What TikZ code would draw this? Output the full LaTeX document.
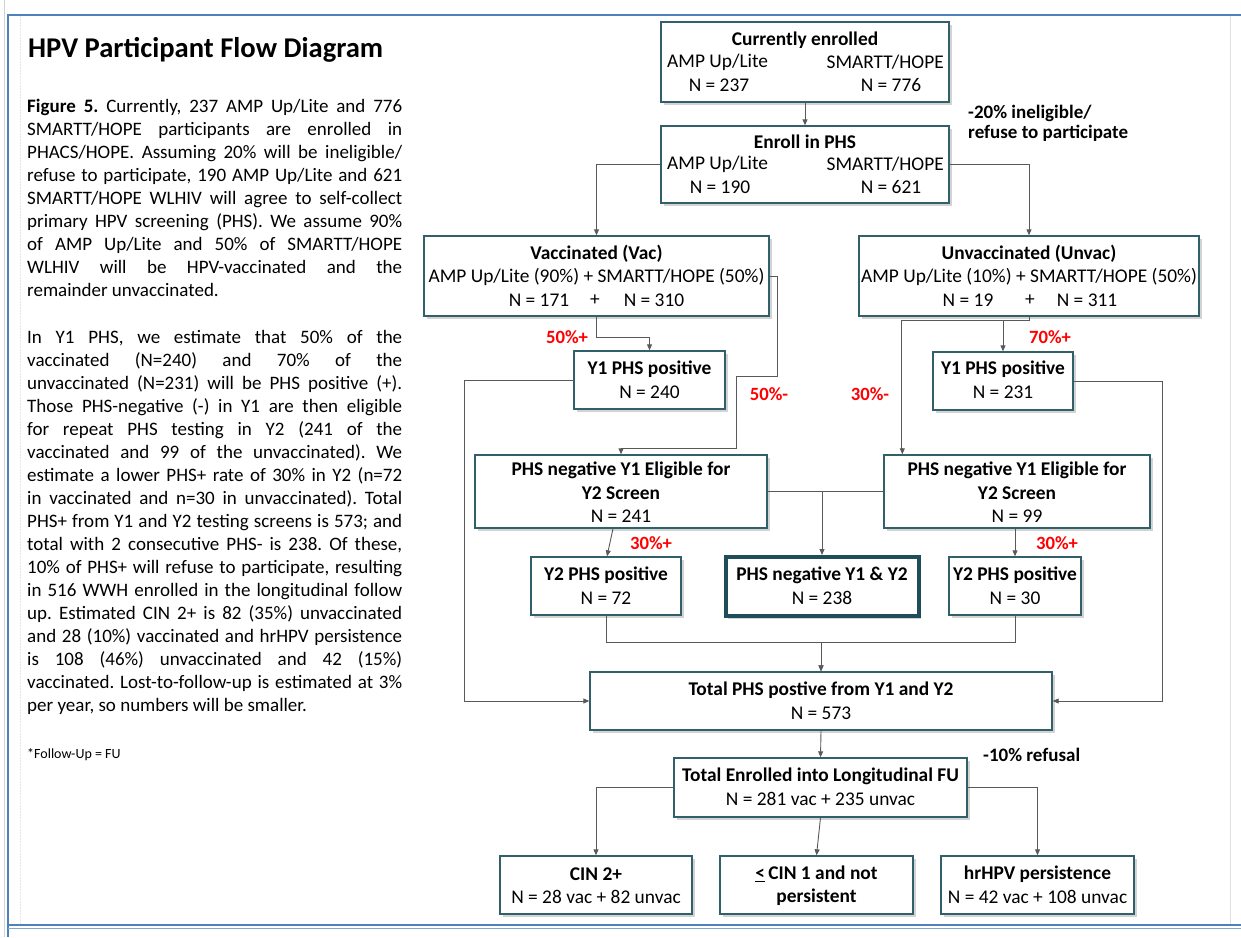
\documentclass[tikz,border=0pt]{standalone}
\usepackage{fontspec}
\setmainfont{Carlito}
\usetikzlibrary{arrows.meta,shadows,calc}
\definecolor{frameblue}{HTML}{4F81BD}
\definecolor{boxteal}{HTML}{31606B}
\definecolor{thickteal}{HTML}{1F4E5A}
\definecolor{conn}{HTML}{595959}
\definecolor{pctred}{HTML}{FF0000}
\frenchspacing
\tikzset{
  box/.style={draw=boxteal, line width=1.4pt, fill=white, inner sep=0pt,
    drop shadow={shadow xshift=2.5pt, shadow yshift=-2.5pt, opacity=0.35, fill=gray}},
  thickbox/.style={box, draw=thickteal, line width=4pt},
  line/.style={draw=conn, line width=0.9pt},
  arr/.style={line, -{Triangle[length=6pt,width=5pt]}},
  bt/.style={font=\fontsize{19.4}{22}\selectfont\bfseries, inner sep=0pt},
  nt/.style={font=\fontsize{19.4}{22}\selectfont, inner sep=0pt},
  pct/.style={font=\fontsize{18.7}{21}\selectfont\bfseries, text=pctred, inner sep=0pt},
  note/.style={font=\fontsize{19}{22}\selectfont\bfseries, inner sep=0pt, anchor=base west},
  bodytxt/.style={font=\fontsize{19}{23}\selectfont, inner sep=0pt, anchor=base west},
}
\newcommand\jline[3]{\node[bodytxt] (#1) at (27,#2) {\makebox[375pt][s]{#3}};}
\newcommand\lline[3]{\node[bodytxt] (#1) at (27,#2) {#3};}
\begin{document}
\begin{tikzpicture}[x=1pt,y=-1pt]
\useasboundingbox (0,0) rectangle (1241,937);
% page frame
\draw[gray!35, line width=1pt] (4,0) -- (4,937);
\draw[gray!20, line width=0.8pt, dash pattern=on 2pt off 1pt] (20,16) -- (20,925);
\draw[gray!25, line width=0.8pt] (1230,16) -- (1230,925);
\draw[frameblue, line width=2pt] (7.5,937) -- (7.5,15) -- (1241,15);
\draw[frameblue, line width=1.2pt] (7.5,925) -- (1241,925);
\draw[frameblue!70, line width=0.8pt] (7.5,928.5) -- (1241,928.5);

% title and text
\node[font=\fontsize{28.6}{32}\selectfont\bfseries, inner sep=0pt, anchor=base west] (title) at (28,57) {HPV Participant Flow Diagram};
\jline{a1}{112}{\textbf{Figure 5.} Currently, 237 AMP Up/Lite and 776}
\jline{a2}{135}{SMARTT/HOPE participants are enrolled in}
\jline{a3}{158}{PHACS/HOPE. Assuming 20\% will be ineligible/}
\jline{a4}{181}{refuse to participate, 190 AMP Up/Lite and 621}
\jline{a5}{204}{SMARTT/HOPE WLHIV will agree to self-collect}
\jline{a6}{227}{primary HPV screening (PHS). We assume 90\%}
\jline{a7}{250}{of AMP Up/Lite and 50\% of SMARTT/HOPE}
\jline{a8}{273}{WLHIV will be HPV-vaccinated and the}
\lline{a9}{296}{remainder unvaccinated.}
\jline{b1}{343}{In Y1 PHS, we estimate that 50\% of the}
\jline{b2}{366}{vaccinated (N=240) and 70\% of the}
\jline{b3}{389}{unvaccinated (N=231) will be PHS positive (+).}
\jline{b4}{412}{Those PHS-negative (-) in Y1 are then eligible}
\jline{b5}{435}{for repeat PHS testing in Y2 (241 of the}
\jline{b6}{458}{vaccinated and 99 of the unvaccinated). We}
\jline{b7}{481}{estimate a lower PHS+ rate of 30\% in Y2 (n=72}
\jline{b8}{504}{in vaccinated and n=30 in unvaccinated). Total}
\jline{b9}{527}{PHS+ from Y1 and Y2 testing screens is 573; and}
\jline{b10}{550}{total with 2 consecutive PHS- is 238. Of these,}
\jline{b11}{573}{10\% of PHS+ will refuse to participate, resulting}
\jline{b12}{596}{in 516 WWH enrolled in the longitudinal follow}
\jline{b13}{619}{up. Estimated CIN 2+ is 82 (35\%) unvaccinated}
\jline{b14}{642}{and 28 (10\%) vaccinated and hrHPV persistence}
\jline{b15}{665}{is 108 (46\%) unvaccinated and 42 (15\%)}
\jline{b16}{688}{vaccinated. Lost-to-follow-up is estimated at 3\%}
\lline{b17}{711}{per year, so numbers will be smaller.}
\node[font=\fontsize{14}{16}\selectfont, inner sep=0pt, anchor=base west] (fn) at (27,758) {*Follow-Up = FU};

% boxes
\node[box, minimum width=288pt, minimum height=80pt] (cur) at (805,62) {};
\node[box, minimum width=288pt, minimum height=77pt] (enr) at (805,164.5) {};
\node[box, minimum width=345pt, minimum height=80pt] (vac) at (596.5,276) {};
\node[box, minimum width=340pt, minimum height=80pt] (unv) at (1029,276) {};
\node[box, minimum width=151pt, minimum height=58pt] (y1v) at (649.5,380) {};
\node[box, minimum width=140pt, minimum height=58pt] (y1u) at (1003,381) {};
\node[box, minimum width=292pt, minimum height=73pt] (negv) at (621,491.5) {};
\node[box, minimum width=266pt, minimum height=73pt] (negu) at (1017,491.5) {};
\node[box, minimum width=150pt, minimum height=58pt] (y2v) at (606,586) {};
\node[thickbox, minimum width=193pt, minimum height=59pt] (negb) at (822,586.5) {};
\node[box, minimum width=132pt, minimum height=58pt] (y2u) at (1015,586) {};
\node[box, minimum width=462pt, minimum height=58pt] (tot) at (821,701) {};
\node[box, minimum width=293pt, minimum height=59pt] (enl) at (820.5,787.5) {};
\node[box, minimum width=192pt, minimum height=58pt] (cin2) at (596,885) {};
\node[box, minimum width=193pt, minimum height=58pt] (cin1) at (816.5,885) {};
\node[box, minimum width=193pt, minimum height=58pt] (hr) at (1037.5,885) {};

% box texts
\node[bt] (t1) at (805,40) {Currently enrolled};
\node[nt, anchor=west] (t2) at (667,62) {AMP Up/Lite};
\node[nt, anchor=east] (t3) at (944,62) {SMARTT/HOPE};
\node[nt] (t4) at (719,85) {N = 237};
\node[nt] (t5) at (891,85) {N = 776};

\node[bt] (e1) at (805,142) {Enroll in PHS};
\node[nt, anchor=west] (e2) at (667,164) {AMP Up/Lite};
\node[nt, anchor=east] (e3) at (944,164) {SMARTT/HOPE};
\node[nt] (e4) at (720,187) {N = 190};
\node[nt] (e5) at (891,187) {N = 621};

\node[bt] (v1) at (596.5,254) {Vaccinated (Vac)};
\node[nt] (v2) at (596.5,277) {AMP Up/Lite (90\%) + SMARTT/HOPE (50\%)};
\node[nt] (v3) at (539,300) {N = 171};
\node[nt] (v4) at (595,300) {+};
\node[nt] (v5) at (654,300) {N = 310};

\node[bt] (u1) at (1029,254) {Unvaccinated (Unvac)};
\node[nt] (u2) at (1029,277) {AMP Up/Lite (10\%) + SMARTT/HOPE (50\%)};
\node[nt] (u3) at (968,300) {N = 19};
\node[nt] (u4) at (1030,300) {+};
\node[nt] (u5) at (1087,300) {N = 311};

\node[bt] (p1) at (649.5,369) {Y1 PHS positive};
\node[nt] (p2) at (649.5,392) {N = 240};
\node[bt] (p3) at (1003,369) {Y1 PHS positive};
\node[nt] (p4) at (1003,392) {N = 231};

\node[bt] (g1) at (621,470) {PHS negative Y1 Eligible for};
\node[bt] (g2) at (621,493) {Y2 Screen};
\node[nt] (g3) at (621,516) {N = 241};
\node[bt] (g4) at (1017,470) {PHS negative Y1 Eligible for};
\node[bt] (g5) at (1017,493) {Y2 Screen};
\node[nt] (g6) at (1017,516) {N = 99};

\node[bt] (q1) at (606,575) {Y2 PHS positive};
\node[nt] (q2) at (606,598) {N = 72};
\node[bt] (q3) at (822,575) {PHS negative Y1 \& Y2};
\node[nt] (q4) at (822,598) {N = 238};
\node[bt] (q5) at (1015,575) {Y2 PHS positive};
\node[nt] (q6) at (1015,598) {N = 30};

\node[bt] (r1) at (821,690) {Total PHS postive from Y1 and Y2};
\node[nt] (r2) at (821,713) {N = 573};
\node[bt] (r3) at (820.5,776) {Total Enrolled into Longitudinal FU};
\node[nt] (r4) at (820.5,799) {N = 281 vac + 235 unvac};

\node[bt] (s1) at (596,874) {CIN 2+};
\node[nt] (s2) at (596,897) {N = 28 vac + 82 unvac};
\node[bt] (s3) at (816.5,874) {\underline{<}\,CIN 1 and not};
\node[bt] (s4) at (816.5,897) {persistent};
\node[bt] (s5) at (1037.5,874) {hrHPV persistence};
\node[nt] (s6) at (1037.5,897) {N = 42 vac + 108 unvac};

% side notes
\node[note] (n1) at (968,118) {-20\% ineligible/};
\node[note] (n2) at (968,138) {refuse to participate};
\node[note] (n3) at (983,761) {-10\% refusal};
\node[pct] (c1) at (567,337) {50\%+};
\node[pct] (c2) at (769,394) {50\%-};
\node[pct] (c3) at (1050,337) {70\%+};
\node[pct] (c4) at (870,394) {30\%-};
\node[pct] (c5) at (651,543) {30\%+};
\node[pct] (c6) at (1057,543) {30\%+};

% connectors
\draw[arr] (cur.south) -- (enr.north);
\draw[arr] (enr.west) -| (vac.north);
\draw[arr] (enr.east) -| (unv.north);
\draw[arr] (vac.south) -- ++(0,21) -| (y1v.north);
\draw[arr] (vac.east) -- ++(8,0) -- ++(0,100) -- ++(-41,0) -- ++(0,72) -| (negv.north);
\draw[arr] (unv.south) -- ++(0,4) -| (y1u.north);
\draw[arr] (unv.south) -- ++(0,4) -- ++(-128,0) -- ++(0,128) -| ([xshift=19pt]negu.north west);
\draw[arr] (y1v.west) -- ++(-109,0) |- (tot.west);
\draw[arr] (y1u.east) -- ++(89,0) |- (tot.east);
\draw[arr] ([xshift=-8pt]negv.south) -- ([xshift=1pt]y2v.north);
\draw[arr] (y2u.north |- negu.south) -- (y2u.north);
\draw[line] (negv.east) -- (negu.west);
\draw[arr] (negb.north |- negv.east) -- (negb.north);
\draw[arr] (y2v.south) -- ++(0,27) -| (tot.north);
\draw[arr] (y2u.south) -- ++(0,27) -| (tot.north);
\draw[arr] (tot.south) -- (enl.north);
\draw[arr] (enl.west) -| (cin2.north);
\draw[arr] (enl.east) -| (hr.north);
\draw[arr] (enl.south) -- (cin1.north);
\end{tikzpicture}
\end{document}
